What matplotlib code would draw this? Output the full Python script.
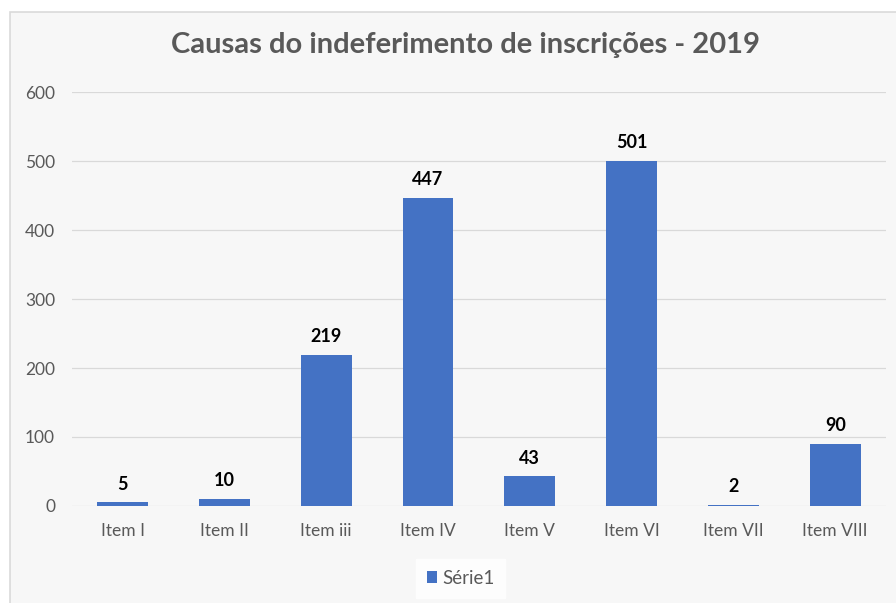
import matplotlib.pyplot as plt
from matplotlib.patches import Rectangle

plt.rcParams['font.family'] = ['Lato', 'DejaVu Sans']

itens = ['Item I', 'Item II', 'Item iii', 'Item IV', 'Item V', 'Item VI', 'Item VII', 'Item VIII']
valores = [5, 10, 219, 447, 43, 501, 2, 90]
yticks = [0, 100, 200, 300, 400, 500, 600]

azul = '#4472C4'
cinza = '#595959'
fundo = '#F7F7F7'

fig = plt.figure(figsize=(8.96, 6.03), dpi=100, facecolor='white')

# moldura do gráfico (atrás dos eixos)
fig.patches.append(Rectangle((10 / 896, -0.01), 1.0, 1 - 12 / 603 + 0.01,
                             transform=fig.transFigure, facecolor=fundo,
                             edgecolor='#DADADA', lw=1.2, zorder=-5))

ax = fig.add_axes([0.080, 0.161, 0.909, 0.686])
ax.patch.set_alpha(0)

x = range(len(itens))
ax.bar(x, valores, width=0.5, color=azul, zorder=3, label='Série1')
for xi, v in zip(x, valores):
    ax.text(xi, v + 14, str(v), ha='center', va='bottom', fontsize=13,
            fontweight='bold', color='black')

ax.set_xlim(-0.5, len(itens) - 0.5)
ax.set_ylim(0, 600)
ax.set_yticks(yticks)
ax.set_xticks(list(x))
ax.set_xticklabels(itens)
ax.tick_params(axis='both', length=0, labelsize=12.5, labelcolor=cinza)
ax.tick_params(axis='x', pad=12)
ax.tick_params(axis='y', pad=12)
ax.grid(axis='y', color='#D9D9D9', lw=0.9, zorder=0)
for s in ax.spines.values():
    s.set_visible(False)

fig.text(0.519, 0.925, 'Causas do indeferimento de inscrições - 2019', ha='center',
         va='center', fontsize=21, fontweight='bold', color=cinza)

leg = fig.legend(loc='center', bbox_to_anchor=(0.514, 0.041), frameon=True,
                 fontsize=13.5, handlelength=0.55, handleheight=0.55,
                 handletextpad=0.25, borderpad=0.6, fancybox=False)
leg.get_frame().set_facecolor('white')
leg.get_frame().set_edgecolor('white')
for t in leg.get_texts():
    t.set_color(cinza)

fig.savefig('out.png', dpi=100, facecolor='white')
